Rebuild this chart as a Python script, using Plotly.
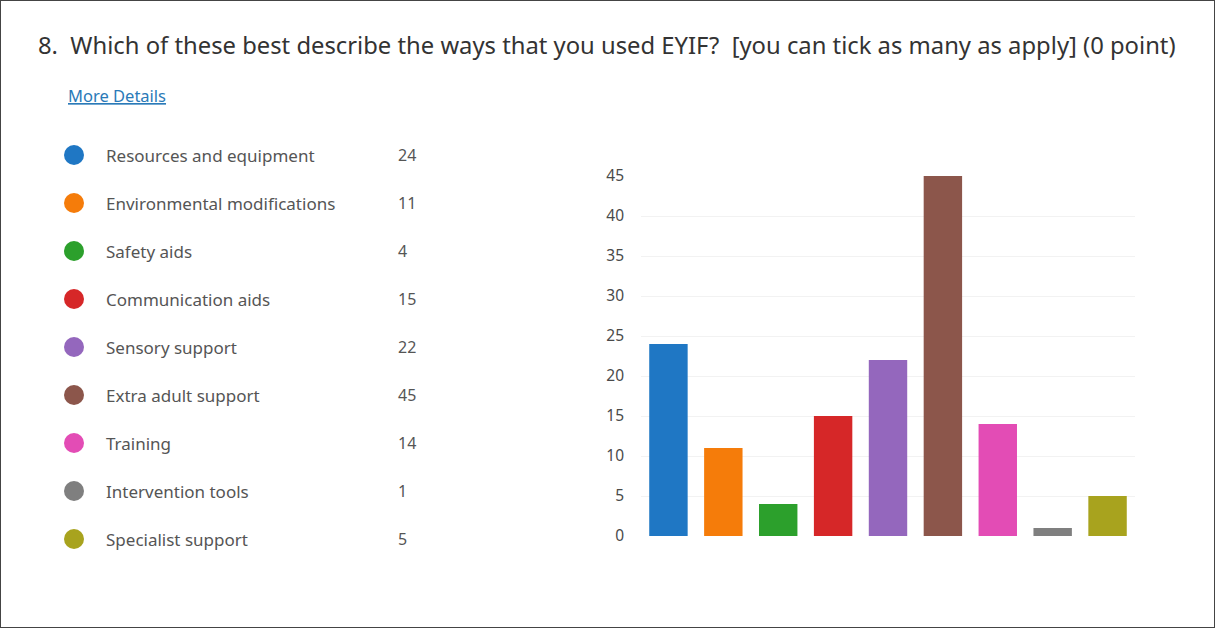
import plotly.graph_objects as go

W, H = 1215, 628

categories = ["Resources and equipment", "Environmental modifications", "Safety aids",
              "Communication aids", "Sensory support", "Extra adult support",
              "Training", "Intervention tools", "Specialist support"]
counts = [24, 11, 4, 15, 22, 45, 14, 1, 5]
colors = ["#1f77c4", "#f57c0a", "#2ca02c", "#d62728", "#9467bd",
          "#8c564b", "#e34cb5", "#7f7f7f", "#a8a31e"]
y_ticks = [0, 5, 10, 15, 20, 25, 30, 35, 40, 45]

title_text = "8.  Which of these best describe the ways that you used EYIF?  [you can tick as many as apply] (0 point)"
link_text = "More Details"

FONT = "Noto Sans"

fig = go.Figure()

# bar chart
fig.add_trace(go.Bar(
    x=categories, y=counts, marker=dict(color=colors, line=dict(width=0)),
    width=0.7, xaxis="x", yaxis="y", showlegend=False, hoverinfo="x+y",
))

# legend markers (left panel)
idx = list(range(len(categories)))
fig.add_trace(go.Scatter(
    x=[74] * len(categories), y=idx, mode="markers",
    marker=dict(color=colors, size=20, line=dict(width=0)),
    xaxis="x2", yaxis="y2", showlegend=False, hoverinfo="skip",
))

annotations = []
for i, (c, v) in enumerate(zip(categories, counts)):
    annotations.append(dict(x=104, y=i, xref="x2", yref="y2", text=c, showarrow=False,
                            xanchor="left", yanchor="middle",
                            font=dict(family=FONT, size=17, color="#555555")))
    annotations.append(dict(x=396, y=i, xref="x2", yref="y2", text=str(v), showarrow=False,
                            xanchor="left", yanchor="middle",
                            font=dict(family=FONT, size=16, color="#555555")))

annotations.append(dict(x=36 / W, y=1 - 45 / H, xref="paper", yref="paper", text=title_text,
                        showarrow=False, xanchor="left", yanchor="middle",
                        font=dict(family=FONT, size=23.8, color="#333333")))
annotations.append(dict(x=66 / W, y=1 - 95 / H, xref="paper", yref="paper",
                        text="<u>" + link_text + "</u>",
                        showarrow=False, xanchor="left", yanchor="middle",
                        font=dict(family=FONT, size=16.5, color="#2a7ab8")))

fig.update_layout(
    width=W, height=H,
    margin=dict(l=0, r=0, t=0, b=0, pad=0, autoexpand=False),
    paper_bgcolor="white", plot_bgcolor="white",
    showlegend=False,
    bargap=0.3,
    xaxis=dict(domain=[641 / W, 1135 / W], showticklabels=False, showgrid=False,
               zeroline=False, showline=False, ticks="", automargin=False),
    yaxis=dict(domain=[1 - 536 / H, 1 - 176 / H], range=[0, 45], tickvals=y_ticks,
               showgrid=True, gridcolor="#f2f2f2", gridwidth=1, zeroline=False,
               showline=False, ticks="", ticklabelstandoff=16, automargin=False,
               tickfont=dict(family=FONT, size=15.5, color="#4a4a4a")),
    xaxis2=dict(domain=[0, 486 / W], range=[0, 486], visible=False, fixedrange=True,
                automargin=False),
    yaxis2=dict(domain=[1 - 563 / H, 1 - 131 / H], range=[8.5, -0.5], visible=False,
                anchor="x2", fixedrange=True, automargin=False),
    annotations=annotations,
    shapes=[dict(type="rect", xref="paper", yref="paper", x0=0, y0=0, x1=1, y1=1,
                 line=dict(color="#444444", width=2))],
)

post = ("document.body.style.margin='0';document.body.style.overflow='hidden';"
        "var gd=document.getElementById('{plot_id}');"
        "gd.style.position='absolute';gd.style.left='0px';gd.style.top='0px';")
fig.write_html("out.html", post_script=post, config={"displayModeBar": False})
